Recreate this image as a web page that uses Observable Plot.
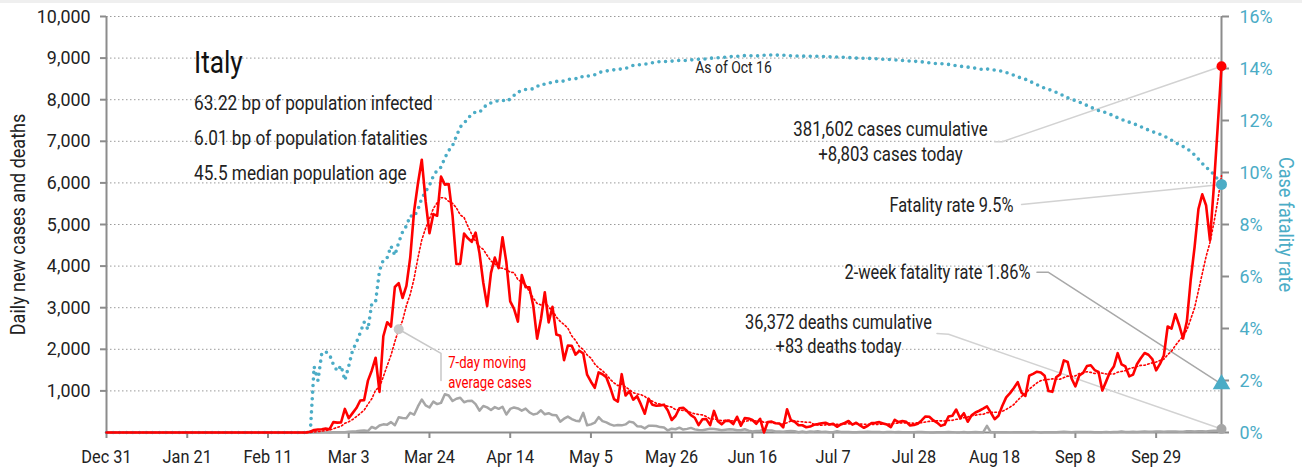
<!DOCTYPE html>
<html>
<head>
<meta charset="utf-8">
<script src="https://cdn.jsdelivr.net/npm/d3@7"></script>
<script src="https://cdn.jsdelivr.net/npm/@observablehq/plot@0.6"></script>
<style>
  body { margin: 0; background: #fff; }
  #band { position: absolute; left: 0; top: 0; width: 1302px; height: 3px; background: #efefef; }
  #chart { position: absolute; left: 0; top: 0; }
  #chart svg text { font-family: "Roboto", "Liberation Sans", sans-serif; }
</style>
</head>
<body>
<div id="chart"></div>
<div id="band"></div>
<script>
// ---------------- DATA (Italy, daily) ----------------
const seriesStart = "2019-12-31";
const firstReportDate = "2020-02-21";
const monthStartDates = ["2020-02-21","2020-03-01","2020-04-01","2020-05-01","2020-06-01","2020-07-01","2020-08-01","2020-09-01","2020-10-01"];

const casesFeb = [3,17,59,71,79,93,78,250,238];
const casesMar = [240,566,342,466,587,769,778,1247,1492,1797,977,2313,2651,2547,3497,3590,3233,3526,4207,5322,5986,6557,5560,4789,5249,5210,6153,5959,5974,5217,4050];
const casesApr = [4053,4782,4668,4585,4805,4316,3599,3039,3836,4204,3951,4694,4092,3153,2972,2667,3786,3493,3491,3047,2256,2729,3370,2646,3021,2357,2324,1739,2091,2086];
const casesMay = [1872,1965,1900,1389,1221,1075,1444,1401,1327,1083,802,744,1402,888,992,789,875,675,451,813,665,642,652,669,531,300,397,584,593,516,416];
const casesJun = [355,178,318,321,177,518,270,197,280,283,202,379,163,346,338,301,210,329,0,251,262,224,218,122,560,296,259,175,174,126];
const casesJul = [142,187,201,223,235,192,208,138,193,229,276,188,234,169,114,162,230,233,249,219,190,129,306,252,275,255,170,181,212,289,386];
const casesAug = [379,295,239,159,190,384,402,552,347,463,259,412,481,523,574,629,479,320,403,642,845,947,1071,1210,953,878,1367,1411,1462,1444,1365];
const casesSep = [996,978,1326,1397,1733,1695,1297,1108,1370,1434,1597,1616,1501,1458,1008,1229,1452,1585,1907,1638,1587,1350,1392,1640,1786,1912,1869,1766,1494,1648];
const casesOct = [1851,2548,2499,2844,2578,2257,2677,3678,4458,5372,5724,5456,4619,5901,7332,8803];

const deathsFeb = [0,0,2,1,4,3,2,5,4];
const deathsMar = [8,5,18,27,28,41,49,36,133,97,168,196,189,250,175,368,349,345,475,427,627,793,651,601,743,683,712,919,889,756,812];
const deathsApr = [837,727,760,766,681,525,636,604,542,610,570,619,431,566,602,578,525,575,482,433,454,534,437,464,420,415,260,333,382,323];
const deathsMay = [285,269,474,174,195,236,369,274,243,194,165,179,172,195,262,242,153,145,99,162,161,156,130,119,50,92,78,117,70,87,111];
const deathsJun = [75,60,55,71,88,85,72,53,65,79,71,53,56,78,44,26,34,43,66,47,49,24,23,18,30,34,30,8,22,6];
const deathsJul = [23,21,30,15,21,7,8,30,15,12,12,7,7,13,13,20,11,11,12,3,13,15,9,10,5,5,5,5,11,11,6];
const deathsAug = [3,3,5,8,5,10,6,3,3,13,2,6,10,6,3,160,4,4,7,5,6,3,9,4,4,4,4,13,9,1,7];
const deathsSep = [4,6,6,10,16,11,7,10,10,10,10,10,6,7,9,14,9,10,10,24,15,13,20,14,20,23,17,16,24,24];
const deathsOct = [19,24,23,27,18,16,28,31,22,28,29,26,39,41,43,83];

const casesByMonth = [casesFeb,casesMar,casesApr,casesMay,casesJun,casesJul,casesAug,casesSep,casesOct];
const deathsByMonth = [deathsFeb,deathsMar,deathsApr,deathsMay,deathsJun,deathsJul,deathsAug,deathsSep,deathsOct];

// axis ticks
const xTickDates = ["2019-12-31","2020-01-21","2020-02-11","2020-03-03","2020-03-24","2020-04-14","2020-05-05","2020-05-26","2020-06-16","2020-07-07","2020-07-28","2020-08-18","2020-09-08","2020-09-29"];
const yTicksLeft = [1000,2000,3000,4000,5000,6000,7000,8000,9000,10000];
const rateTicksPct = [0,2,4,6,8,10,12,14,16];

// texts
const countryTitle = "Italy";
const statLines = ["63.22 bp of population infected","6.01 bp of population fatalities","45.5 median population age"];
const asOfLabel = "As of Oct 16";
const casesLabel = ["381,602 cases cumulative","+8,803 cases today"];
const fatalityLabel = "Fatality rate 9.5%";
const twoWeekLabel = "2-week fatality rate 1.86%";
const deathsLabel = ["36,372 deaths cumulative","+83 deaths today"];
const maLabel = ["7-day moving","average cases"];
const yLabelLeft = "Daily new cases and deaths";
const yLabelRight = "Case fatality rate";

// ---------------- BUILD TABLE ----------------
const parse = d3.utcParse("%Y-%m-%d");
const rows = [];
for (let d = parse(seriesStart); d < parse(firstReportDate); d = d3.utcDay.offset(d, 1)) rows.push({date: d, cases: 0, deaths: 0});
casesByMonth.forEach((arr, m) => arr.forEach((c, i) => rows.push({
  date: d3.utcDay.offset(parse(monthStartDates[m]), i), cases: c, deaths: deathsByMonth[m][i]
})));
let cumC = 0, cumD = 0;
for (const r of rows) { cumC += r.cases; cumD += r.deaths; r.cfr = cumC ? cumD / cumC : 0; }

const Y_MAX = 10000, RATE_MAX = 16; // right axis 0–16% maps onto left 0–10,000
const rateToY = pct => pct / RATE_MAX * Y_MAX;
const n = rows.length;
const last = rows[n - 1];
const twoWeekRate = d3.sum(rows.slice(n - 14), d => d.deaths) / d3.sum(rows.slice(n - 28, n - 14), d => d.cases);
const maIdx = rows.findIndex(r => +r.date === +parse("2020-03-16"));
const maPoint = {date: rows[maIdx].date, value: d3.mean(rows.slice(maIdx - 6, maIdx + 1), d => d.cases)};

const teal = "#4bacc6", red = "#ff0000", deathGray = "#a6a6a6", axisGray = "#8c8c8c";

// annotation connectors: label-side anchors (date, value) then the data point
const connectors = [
  {id: "cases", stroke: "#d2d2d2", pts: [[parse("2020-08-18"), 6990], [parse("2020-08-20"), 6990], [last.date, last.cases]]},
  {id: "cfr", stroke: "#d2d2d2", pts: [[parse("2020-08-25"), 5480], [last.date, rateToY(last.cfr * 100)]]},
  {id: "two", stroke: "#a8a8a8", pts: [[parse("2020-08-29"), 3850], [parse("2020-09-01"), 3850], [last.date, rateToY(twoWeekRate * 100)]]},
  {id: "deaths", stroke: "#d2d2d2", pts: [[parse("2020-08-03"), 2380], [parse("2020-08-06"), 2360], [last.date, last.deaths]]},
  {id: "ma", stroke: "#c8c8c8", pts: [[maPoint.date, maPoint.value], [parse("2020-03-27"), 1900], [parse("2020-03-27"), 1250]]}
];
const connectorPts = connectors.flatMap(c => c.pts.map(([date, value]) => ({id: c.id, stroke: c.stroke, date, value})));

const chart = Plot.plot({
  width: 1302, height: 472,
  marginLeft: 106, marginRight: 81, marginTop: 16, marginBottom: 40,
  style: {background: "transparent", color: "#222", fontSize: "19px"},
  x: {type: "utc", domain: [rows[0].date, last.date]},
  y: {domain: [0, Y_MAX]},
  marks: [
    Plot.gridY(yTicksLeft, {stroke: "#9a9a9a", strokeOpacity: 1, strokeDasharray: "1.5,2.5", strokeWidth: 1}),
    Plot.ruleX([rows[0].date], {stroke: axisGray, strokeWidth: 2}),
    Plot.ruleX([last.date], {stroke: axisGray, strokeWidth: 2}),
    Plot.ruleY([0], {stroke: axisGray, strokeWidth: 2}),
    Plot.axisX(xTickDates.map(parse), {tickFormat: d3.utcFormat("%b %-d"), tickSize: 6, tickPadding: 11, stroke: axisGray, strokeWidth: 2, fill: "#222", fontSize: 19, label: null}),
    Plot.axisY(yTicksLeft, {anchor: "left", tickFormat: d3.format(","), tickSize: 6, tickPadding: 10, stroke: axisGray, strokeWidth: 2, fill: "#222", fontSize: 19, label: null}),
    Plot.axisY(rateTicksPct.map(rateToY), {anchor: "right", tickFormat: v => Math.round(v / Y_MAX * RATE_MAX) + "%", tickSize: 7, tickPadding: 11, stroke: axisGray, strokeWidth: 2, fill: teal, fontSize: 19, label: null}),
    Plot.text([yLabelLeft], {frameAnchor: "left", rotate: -90, textAnchor: "middle", dx: -88, fontSize: 20, fill: "#222"}),
    Plot.text([yLabelRight], {frameAnchor: "right", rotate: 90, textAnchor: "middle", dx: 64, fontSize: 20, fill: teal}),

    // connectors
    Plot.line(connectorPts, {x: "date", y: "value", z: "id", stroke: "stroke", strokeWidth: 1.5}),

    // data
    Plot.line(rows, {x: "date", y: "deaths", stroke: deathGray, strokeWidth: 2.5, strokeLinejoin: "round"}),
    Plot.line(rows, {x: "date", y: d => rateToY(d.cfr * 100), stroke: teal, strokeWidth: 3.6, strokeDasharray: "0,6.6", strokeLinecap: "round"}),
    Plot.line(rows, Plot.windowY({k: 7, anchor: "end", reduce: "mean"}, {x: "date", y: "cases", stroke: red, strokeWidth: 1.6, strokeDasharray: "1.6,2.4"})),
    Plot.line(rows, {x: "date", y: "cases", stroke: red, strokeWidth: 2.6, strokeLinejoin: "round"}),

    // markers
    Plot.dot([maPoint], {x: "date", y: "value", r: 5, fill: "#c8c8c8"}),
    Plot.dot([last], {x: "date", y: "deaths", r: 5, fill: "#a6a6a6"}),
    Plot.dot([last], {x: "date", y: "cases", r: 5, fill: red}),
    Plot.dot([last], {x: "date", y: d => rateToY(d.cfr * 100), r: 5.5, fill: teal}),
    Plot.dot([last], {x: "date", y: () => rateToY(twoWeekRate * 100), r: 6.5, symbol: "triangle", fill: teal}),

    // texts
    Plot.text([countryTitle], {frameAnchor: "top-left", dx: 87.5, dy: 56, lineAnchor: "bottom", textAnchor: "start", fontSize: 32, fill: "#111"}),
    Plot.text([statLines.join("\n")], {frameAnchor: "top-left", dx: 87.5, dy: 163.5, lineAnchor: "bottom", textAnchor: "start", fontSize: 21, lineHeight: 1.667, fill: "#222"}),
    Plot.text([asOfLabel], {frameAnchor: "top-left", dx: 627, dy: 56, lineAnchor: "bottom", textAnchor: "middle", fontSize: 17, fill: "#222"}),
    Plot.text([casesLabel.join("\n")], {frameAnchor: "top-left", dx: 784, dy: 144, lineAnchor: "bottom", textAnchor: "middle", fontSize: 20.5, lineHeight: 1.22, fill: "#222"}),
    Plot.text([fatalityLabel], {frameAnchor: "top-left", dx: 907, dy: 195, lineAnchor: "bottom", textAnchor: "end", fontSize: 20, fill: "#222"}),
    Plot.text([twoWeekLabel], {frameAnchor: "top-left", dx: 924, dy: 262, lineAnchor: "bottom", textAnchor: "end", fontSize: 20, fill: "#222"}),
    Plot.text([deathsLabel.join("\n")], {frameAnchor: "top-left", dx: 732, dy: 336, lineAnchor: "bottom", textAnchor: "middle", fontSize: 20, lineHeight: 1.2, fill: "#222"}),
    Plot.text([maLabel.join("\n")], {frameAnchor: "top-left", dx: 341.7, dy: 371, lineAnchor: "bottom", textAnchor: "start", fontSize: 16, lineHeight: 1.2, fill: red})
  ]
});

// condensed look: squeeze text horizontally (along its baseline) around its anchor
const squeeze = {"text": 0.82, "x-axis tick label": 0.86, "y-axis tick label": 0.94};
chart.querySelectorAll("g[aria-label]").forEach(g => {
  const base = squeeze[g.getAttribute("aria-label")];
  if (!base) return;
  g.querySelectorAll("text").forEach(t => {
    const tr = t.getAttribute("transform");
    const s = tr && tr.includes("rotate") ? 0.9 : base;
    if (tr) t.setAttribute("transform", tr + ` scale(${s},1)`);
    else {
      const x = +(t.getAttribute("x") || 0), y = +(t.getAttribute("y") || 0);
      t.setAttribute("transform", `translate(${x},${y}) scale(${s},1) translate(${-x},${-y})`);
    }
  });
});
document.getElementById("chart").append(chart);
</script>
</body>
</html>
